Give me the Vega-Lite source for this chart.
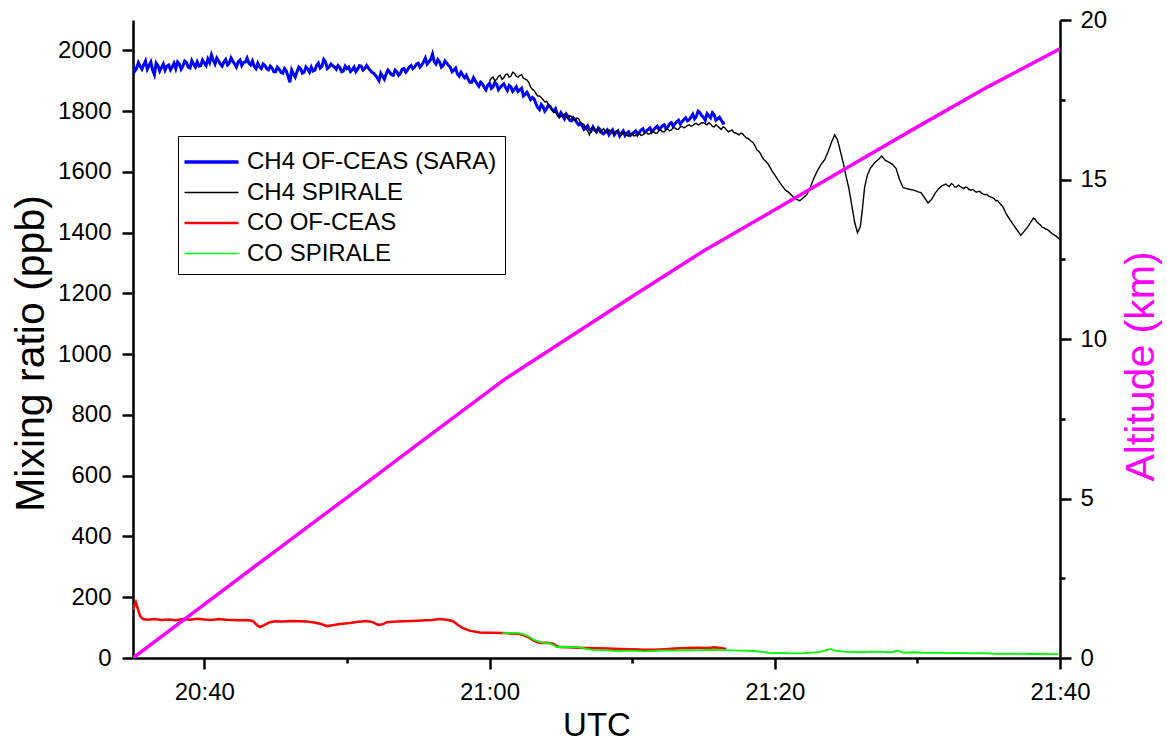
{
  "$schema": "https://vega.github.io/schema/vega-lite/v6.json",
  "width": 927,
  "height": 638,
  "autosize": {"type": "none"},
  "padding": {"left": 133, "top": 20, "right": 107, "bottom": 84},
  "background": "white",
  "config": {
    "view": {"stroke": null},
    "font": "Liberation Sans",
    "axis": {
      "grid": false,
      "domainColor": "black",
      "domainWidth": 2.5,
      "tickColor": "black",
      "tickWidth": 2.5,
      "labelColor": "black",
      "labelFont": "Liberation Sans",
      "labelFontSize": 24,
      "titleFont": "Liberation Sans",
      "titleFontWeight": "normal",
      "titleColor": "black",
      "labelFlush": false,
      "labelOverlap": false
    }
  },
  "datasets": {
    "ch4sara": [
      {"t":35.00,"v":1955},{"t":35.25,"v":1940},{"t":35.50,"v":1948},{"t":35.75,"v":1952},{"t":36.00,"v":1938},{"t":36.25,"v":1962},{"t":36.50,"v":1920},{"t":36.75,"v":1950},
      {"t":37.00,"v":1944},{"t":37.25,"v":1935},{"t":37.50,"v":1952},{"t":37.75,"v":1946},{"t":38.00,"v":1940},{"t":38.25,"v":1955},{"t":38.50,"v":1948},{"t":38.75,"v":1960},
      {"t":39.00,"v":1942},{"t":39.25,"v":1954},{"t":39.50,"v":1962},{"t":39.75,"v":1950},{"t":40.00,"v":1958},{"t":40.25,"v":1972},{"t":40.50,"v":1985},{"t":40.75,"v":1955},
      {"t":41.00,"v":1966},{"t":41.25,"v":1948},{"t":41.50,"v":1970},{"t":41.75,"v":1958},{"t":42.00,"v":1964},{"t":42.25,"v":1945},{"t":42.50,"v":1968},{"t":42.75,"v":1960},
      {"t":43.00,"v":1975},{"t":43.25,"v":1952},{"t":43.50,"v":1947},{"t":43.75,"v":1958},{"t":44.00,"v":1940},{"t":44.25,"v":1950},{"t":44.50,"v":1936},{"t":44.75,"v":1942},
      {"t":45.00,"v":1930},{"t":45.25,"v":1938},{"t":45.50,"v":1925},{"t":45.75,"v":1932},{"t":46.00,"v":1895},{"t":46.25,"v":1922},{"t":46.50,"v":1930},{"t":46.75,"v":1940},
      {"t":47.00,"v":1928},{"t":47.25,"v":1938},{"t":47.50,"v":1945},{"t":47.75,"v":1935},{"t":48.00,"v":1958},{"t":48.25,"v":1948},{"t":48.50,"v":1962},{"t":48.75,"v":1945},
      {"t":49.00,"v":1950},{"t":49.25,"v":1938},{"t":49.50,"v":1944},{"t":49.75,"v":1932},{"t":50.00,"v":1940},{"t":50.25,"v":1930},{"t":50.50,"v":1945},{"t":50.75,"v":1938},
      {"t":51.00,"v":1948},{"t":51.25,"v":1940},{"t":51.50,"v":1942},{"t":51.75,"v":1928},{"t":52.00,"v":1918},{"t":52.25,"v":1900},{"t":52.50,"v":1915},{"t":52.75,"v":1922},
      {"t":53.00,"v":1928},{"t":53.25,"v":1918},{"t":53.50,"v":1930},{"t":53.75,"v":1925},{"t":54.00,"v":1940},{"t":54.25,"v":1935},{"t":54.50,"v":1950},{"t":54.75,"v":1945},
      {"t":55.00,"v":1958},{"t":55.25,"v":1952},{"t":55.50,"v":1975},{"t":55.75,"v":1962},{"t":56.00,"v":1988},{"t":56.25,"v":1955},{"t":56.50,"v":1962},{"t":56.75,"v":1950},
      {"t":57.00,"v":1958},{"t":57.25,"v":1945},{"t":57.50,"v":1935},{"t":57.75,"v":1922},{"t":58.00,"v":1928},{"t":58.25,"v":1910},{"t":58.50,"v":1905},{"t":58.75,"v":1895},
      {"t":59.00,"v":1900},{"t":59.25,"v":1882},{"t":59.50,"v":1890},{"t":59.75,"v":1870},{"t":60.00,"v":1892},{"t":60.25,"v":1880},{"t":60.50,"v":1888},{"t":60.75,"v":1878},
      {"t":61.00,"v":1890},{"t":61.25,"v":1868},{"t":61.50,"v":1880},{"t":61.75,"v":1872},{"t":62.00,"v":1865},{"t":62.25,"v":1875},{"t":62.50,"v":1855},{"t":62.75,"v":1850},
      {"t":63.00,"v":1845},{"t":63.25,"v":1825},{"t":63.50,"v":1805},{"t":63.75,"v":1815},{"t":64.00,"v":1808},{"t":64.25,"v":1815},{"t":64.50,"v":1800},{"t":64.75,"v":1790},
      {"t":65.00,"v":1795},{"t":65.25,"v":1775},{"t":65.50,"v":1782},{"t":65.75,"v":1768},{"t":66.00,"v":1772},{"t":66.25,"v":1755},{"t":66.50,"v":1752},{"t":66.75,"v":1745},
      {"t":67.00,"v":1740},{"t":67.25,"v":1748},{"t":67.50,"v":1732},{"t":67.75,"v":1740},{"t":68.00,"v":1725},{"t":68.25,"v":1738},{"t":68.50,"v":1730},{"t":68.75,"v":1722},
      {"t":69.00,"v":1735},{"t":69.25,"v":1728},{"t":69.50,"v":1720},{"t":69.75,"v":1732},{"t":70.00,"v":1725},{"t":70.25,"v":1735},{"t":70.50,"v":1730},{"t":70.75,"v":1742},
      {"t":71.00,"v":1735},{"t":71.25,"v":1745},{"t":71.50,"v":1738},{"t":71.75,"v":1750},{"t":72.00,"v":1745},{"t":72.25,"v":1755},{"t":72.50,"v":1748},{"t":72.75,"v":1762},
      {"t":73.00,"v":1758},{"t":73.25,"v":1770},{"t":73.50,"v":1765},{"t":73.75,"v":1778},{"t":74.00,"v":1772},{"t":74.25,"v":1790},{"t":74.50,"v":1782},{"t":74.75,"v":1795},
      {"t":75.00,"v":1780},{"t":75.25,"v":1792},{"t":75.50,"v":1778},{"t":75.75,"v":1788},{"t":76.00,"v":1775},{"t":76.25,"v":1770},{"t":76.50,"v":1762},
      {"t":35.125,"v":1932},{"t":35.375,"v":1960},{"t":35.625,"v":1938},{"t":35.875,"v":1965},{"t":36.125,"v":1950},{"t":36.375,"v":1935},{"t":36.625,"v":1958},{"t":36.875,"v":1932},
      {"t":37.125,"v":1955},{"t":37.375,"v":1948},{"t":37.625,"v":1936},{"t":37.875,"v":1958},{"t":38.125,"v":1962},{"t":38.375,"v":1938},{"t":38.625,"v":1965},{"t":38.875,"v":1945},
      {"t":39.125,"v":1966},{"t":39.375,"v":1945},{"t":39.625,"v":1948},{"t":39.875,"v":1968},{"t":40.125,"v":1950},{"t":40.375,"v":1960},{"t":40.625,"v":1968},{"t":40.875,"v":1975},
      {"t":41.125,"v":1955},{"t":41.375,"v":1962},{"t":41.625,"v":1952},{"t":41.875,"v":1975},{"t":42.125,"v":1955},{"t":42.375,"v":1962},{"t":42.625,"v":1950},{"t":42.875,"v":1962},
      {"t":43.125,"v":1958},{"t":43.375,"v":1965},{"t":43.625,"v":1940},{"t":43.875,"v":1946},{"t":44.125,"v":1955},{"t":44.375,"v":1940},{"t":44.625,"v":1948},{"t":44.875,"v":1930},
      {"t":45.125,"v":1945},{"t":45.375,"v":1928},{"t":45.625,"v":1940},{"t":45.875,"v":1915},{"t":46.125,"v":1935},{"t":46.375,"v":1912},{"t":46.625,"v":1945},{"t":46.875,"v":1925},
      {"t":47.125,"v":1945},{"t":47.375,"v":1928},{"t":47.625,"v":1932},{"t":47.875,"v":1950},{"t":48.125,"v":1942},{"t":48.375,"v":1970},{"t":48.625,"v":1940},{"t":48.875,"v":1955},
      {"t":49.125,"v":1945},{"t":49.375,"v":1950},{"t":49.625,"v":1930},{"t":49.875,"v":1948},{"t":50.125,"v":1945},{"t":50.375,"v":1936},{"t":50.625,"v":1930},{"t":50.875,"v":1950},
      {"t":51.125,"v":1935},{"t":51.375,"v":1950},{"t":51.625,"v":1935},{"t":51.875,"v":1925},{"t":52.125,"v":1910},{"t":52.375,"v":1925},{"t":52.625,"v":1905},{"t":52.875,"v":1935},
      {"t":53.125,"v":1920},{"t":53.375,"v":1935},{"t":53.625,"v":1918},{"t":53.875,"v":1938},{"t":54.125,"v":1928},{"t":54.375,"v":1945},{"t":54.625,"v":1940},{"t":54.875,"v":1955},
      {"t":55.125,"v":1945},{"t":55.375,"v":1962},{"t":55.625,"v":1955},{"t":55.875,"v":1970},{"t":56.125,"v":1962},{"t":56.375,"v":1970},{"t":56.625,"v":1945},{"t":56.875,"v":1965},
      {"t":57.125,"v":1950},{"t":57.375,"v":1930},{"t":57.625,"v":1942},{"t":57.875,"v":1915},{"t":58.125,"v":1918},{"t":58.375,"v":1918},{"t":58.625,"v":1895},{"t":58.875,"v":1910},
      {"t":59.125,"v":1890},{"t":59.375,"v":1895},{"t":59.625,"v":1878},{"t":59.875,"v":1885},{"t":60.125,"v":1875},{"t":60.375,"v":1895},{"t":60.625,"v":1870},{"t":60.875,"v":1885},
      {"t":61.125,"v":1878},{"t":61.375,"v":1885},{"t":61.625,"v":1865},{"t":61.875,"v":1880},{"t":62.125,"v":1870},{"t":62.375,"v":1850},{"t":62.625,"v":1862},{"t":62.875,"v":1838},
      {"t":63.125,"v":1840},{"t":63.375,"v":1812},{"t":63.625,"v":1822},{"t":63.875,"v":1800},{"t":64.125,"v":1820},{"t":64.375,"v":1805},{"t":64.625,"v":1808},{"t":64.875,"v":1782},
      {"t":65.125,"v":1785},{"t":65.375,"v":1790},{"t":65.625,"v":1770},{"t":65.875,"v":1778},{"t":66.125,"v":1762},{"t":66.375,"v":1760},{"t":66.625,"v":1740},{"t":66.875,"v":1752},
      {"t":67.125,"v":1735},{"t":67.375,"v":1738},{"t":67.625,"v":1745},{"t":67.875,"v":1728},{"t":68.125,"v":1732},{"t":68.375,"v":1722},{"t":68.625,"v":1738},{"t":68.875,"v":1730},
      {"t":69.125,"v":1718},{"t":69.375,"v":1735},{"t":69.625,"v":1728},{"t":69.875,"v":1720},{"t":70.125,"v":1730},{"t":70.375,"v":1722},{"t":70.625,"v":1738},{"t":70.875,"v":1730},
      {"t":71.125,"v":1740},{"t":71.375,"v":1732},{"t":71.625,"v":1745},{"t":71.875,"v":1740},{"t":72.125,"v":1752},{"t":72.375,"v":1742},{"t":72.625,"v":1758},{"t":72.875,"v":1750},
      {"t":73.125,"v":1765},{"t":73.375,"v":1758},{"t":73.625,"v":1772},{"t":73.875,"v":1768},{"t":74.125,"v":1780},{"t":74.375,"v":1775},{"t":74.625,"v":1800},{"t":74.875,"v":1785},
      {"t":75.125,"v":1770},{"t":75.375,"v":1785},{"t":75.625,"v":1795},{"t":75.875,"v":1770},{"t":76.125,"v":1780},{"t":76.375,"v":1760}
    ],
    "ch4spirale": [
      {"t":60.00,"v":1900},{"t":60.25,"v":1912},{"t":60.50,"v":1905},{"t":60.75,"v":1918},{"t":61.00,"v":1910},{"t":61.25,"v":1922},{"t":61.50,"v":1915},{"t":61.75,"v":1925},
      {"t":62.00,"v":1912},{"t":62.25,"v":1920},{"t":62.50,"v":1905},{"t":62.75,"v":1895},{"t":63.00,"v":1872},{"t":63.25,"v":1858},{"t":63.50,"v":1850},{"t":63.75,"v":1838},
      {"t":64.00,"v":1832},{"t":64.25,"v":1815},{"t":64.50,"v":1795},{"t":64.75,"v":1790},{"t":65.00,"v":1782},{"t":65.25,"v":1790},{"t":65.50,"v":1775},{"t":65.75,"v":1782},
      {"t":66.00,"v":1768},{"t":66.25,"v":1775},{"t":66.50,"v":1760},{"t":66.75,"v":1745},{"t":67.00,"v":1722},{"t":67.25,"v":1745},{"t":67.50,"v":1738},{"t":67.75,"v":1730},
      {"t":68.00,"v":1742},{"t":68.25,"v":1728},{"t":68.50,"v":1735},{"t":68.75,"v":1725},{"t":69.00,"v":1732},{"t":69.25,"v":1722},{"t":69.50,"v":1728},{"t":69.75,"v":1718},
      {"t":70.00,"v":1725},{"t":70.25,"v":1720},{"t":70.50,"v":1728},{"t":70.75,"v":1722},{"t":71.00,"v":1730},{"t":71.25,"v":1726},{"t":71.50,"v":1733},{"t":71.75,"v":1728},
      {"t":72.00,"v":1738},{"t":72.25,"v":1732},{"t":72.50,"v":1742},{"t":72.75,"v":1738},{"t":73.00,"v":1745},{"t":73.25,"v":1740},{"t":73.50,"v":1750},{"t":73.75,"v":1748},
      {"t":74.00,"v":1755},{"t":74.25,"v":1752},{"t":74.50,"v":1760},{"t":74.75,"v":1757},{"t":75.00,"v":1762},{"t":75.25,"v":1755},{"t":75.50,"v":1758},{"t":75.75,"v":1748},
      {"t":76.00,"v":1750},{"t":76.25,"v":1740},{"t":76.50,"v":1745},{"t":76.75,"v":1732},{"t":77.00,"v":1738},{"t":77.25,"v":1728},{"t":77.50,"v":1722},{"t":77.75,"v":1725},
      {"t":78.00,"v":1712},{"t":78.25,"v":1705},{"t":78.50,"v":1695},{"t":78.75,"v":1672},{"t":79.00,"v":1660},{"t":79.25,"v":1640},{"t":79.50,"v":1628},{"t":79.75,"v":1608},
      {"t":80.00,"v":1590},{"t":80.25,"v":1572},{"t":80.50,"v":1555},{"t":80.75,"v":1540},{"t":81.00,"v":1532},{"t":81.25,"v":1520},{"t":81.50,"v":1510},{"t":81.75,"v":1505},
      {"t":82.00,"v":1515},{"t":82.25,"v":1525},{"t":82.50,"v":1550},{"t":82.75,"v":1580},{"t":83.00,"v":1605},{"t":83.25,"v":1625},{"t":83.50,"v":1640},{"t":83.75,"v":1668},
      {"t":84.00,"v":1700},{"t":84.20,"v":1722},{"t":84.40,"v":1705},{"t":84.60,"v":1668},{"t":84.80,"v":1630},{"t":85.00,"v":1585},{"t":85.20,"v":1545},{"t":85.40,"v":1490},
      {"t":85.60,"v":1435},{"t":85.80,"v":1400},{"t":86.00,"v":1420},{"t":86.15,"v":1480},{"t":86.30,"v":1550},{"t":86.50,"v":1590},{"t":86.70,"v":1612},{"t":87.00,"v":1630},
      {"t":87.25,"v":1640},{"t":87.50,"v":1652},{"t":87.75,"v":1638},{"t":88.00,"v":1632},{"t":88.25,"v":1625},{"t":88.50,"v":1612},{"t":88.75,"v":1575},{"t":89.00,"v":1548},
      {"t":89.25,"v":1545},{"t":89.50,"v":1542},{"t":89.75,"v":1540},{"t":90.00,"v":1535},{"t":90.25,"v":1532},{"t":90.50,"v":1515},{"t":90.75,"v":1498},{"t":91.00,"v":1510},
      {"t":91.25,"v":1530},{"t":91.50,"v":1545},{"t":91.75,"v":1555},{"t":92.00,"v":1560},{"t":92.25,"v":1552},{"t":92.50,"v":1558},{"t":92.75,"v":1550},{"t":93.00,"v":1552},
      {"t":93.25,"v":1545},{"t":93.50,"v":1548},{"t":93.75,"v":1540},{"t":94.00,"v":1538},{"t":94.25,"v":1535},{"t":94.50,"v":1530},{"t":94.75,"v":1525},{"t":95.00,"v":1520},
      {"t":95.25,"v":1515},{"t":95.50,"v":1505},{"t":95.75,"v":1498},{"t":96.00,"v":1485},{"t":96.25,"v":1460},{"t":96.50,"v":1442},{"t":96.75,"v":1425},{"t":97.00,"v":1408},
      {"t":97.25,"v":1392},{"t":97.50,"v":1405},{"t":97.75,"v":1420},{"t":98.00,"v":1438},{"t":98.25,"v":1445},{"t":98.50,"v":1430},{"t":98.75,"v":1418},{"t":99.00,"v":1412},
      {"t":99.25,"v":1405},{"t":99.50,"v":1395},{"t":99.75,"v":1388},{"t":100.00,"v":1378},
      {"t":60.125,"v":1908},{"t":60.375,"v":1900},{"t":60.625,"v":1915},{"t":60.875,"v":1905},{"t":61.125,"v":1920},{"t":61.375,"v":1912},{"t":61.625,"v":1928},{"t":61.875,"v":1915},
      {"t":62.125,"v":1918},{"t":62.375,"v":1908},{"t":62.625,"v":1902},{"t":62.875,"v":1880},{"t":63.125,"v":1868},{"t":63.375,"v":1850},{"t":63.625,"v":1845},{"t":63.875,"v":1830},
      {"t":64.125,"v":1822},{"t":64.375,"v":1805},{"t":64.625,"v":1798},{"t":64.875,"v":1780},{"t":65.125,"v":1788},{"t":65.375,"v":1780},{"t":65.625,"v":1785},{"t":65.875,"v":1772},
      {"t":66.125,"v":1778},{"t":66.375,"v":1762},{"t":66.625,"v":1755},{"t":66.875,"v":1735},{"t":67.125,"v":1738},{"t":67.375,"v":1735},{"t":67.625,"v":1740},{"t":67.875,"v":1735},
      {"t":68.125,"v":1732},{"t":68.375,"v":1738},{"t":68.625,"v":1728},{"t":68.875,"v":1735},{"t":69.125,"v":1726},{"t":69.375,"v":1730},{"t":69.625,"v":1720},{"t":69.875,"v":1726},
      {"t":70.125,"v":1718},{"t":70.375,"v":1725},{"t":70.625,"v":1720},{"t":70.875,"v":1728},{"t":71.125,"v":1724},{"t":71.375,"v":1732},{"t":71.625,"v":1727},{"t":71.875,"v":1735},
      {"t":72.125,"v":1732},{"t":72.375,"v":1740},{"t":72.625,"v":1735},{"t":72.875,"v":1745},{"t":73.125,"v":1740},{"t":73.375,"v":1748},{"t":73.625,"v":1745},{"t":73.875,"v":1752},
      {"t":74.125,"v":1750},{"t":74.375,"v":1758},{"t":74.625,"v":1754},{"t":74.875,"v":1762},{"t":75.125,"v":1758},{"t":75.375,"v":1762},{"t":75.625,"v":1750},{"t":75.875,"v":1755},
      {"t":76.125,"v":1745},{"t":76.375,"v":1748},{"t":76.625,"v":1738},{"t":76.875,"v":1735},{"t":77.125,"v":1730},{"t":77.375,"v":1725},{"t":77.625,"v":1728},{"t":77.875,"v":1718},
      {"t":78.125,"v":1710},{"t":78.375,"v":1700},{"t":78.625,"v":1685},{"t":78.875,"v":1668},{"t":79.125,"v":1648},{"t":79.375,"v":1635},{"t":79.625,"v":1618},{"t":79.875,"v":1598},
      {"t":92.125,"v":1555},{"t":92.375,"v":1562},{"t":92.625,"v":1550},{"t":92.875,"v":1556},{"t":93.125,"v":1548},{"t":93.375,"v":1550},{"t":93.625,"v":1542},{"t":93.875,"v":1543},
      {"t":94.125,"v":1533},{"t":94.375,"v":1536},{"t":94.625,"v":1527},{"t":94.875,"v":1526},{"t":95.125,"v":1518},{"t":95.375,"v":1512},{"t":95.625,"v":1506},{"t":95.875,"v":1492},
      {"t":98.125,"v":1448},{"t":98.375,"v":1436},{"t":98.625,"v":1425},{"t":98.875,"v":1416},{"t":99.125,"v":1410},{"t":99.375,"v":1400},{"t":99.625,"v":1392},{"t":99.875,"v":1382}
    ],
    "coofceas": [
      {"t":35.0,"v":158},{"t":35.1,"v":175},{"t":35.2,"v":184},{"t":35.35,"v":160},{"t":35.5,"v":138},{"t":35.7,"v":128},{"t":36.0,"v":126},{"t":36.5,"v":128},
      {"t":37.0,"v":125},{"t":37.5,"v":127},{"t":38.0,"v":124},{"t":38.5,"v":128},{"t":39.0,"v":126},{"t":39.5,"v":129},{"t":40.0,"v":127},{"t":40.5,"v":125},
      {"t":41.0,"v":128},{"t":41.5,"v":126},{"t":42.0,"v":125},{"t":42.5,"v":124},{"t":43.0,"v":125},{"t":43.4,"v":122},{"t":43.7,"v":108},{"t":43.9,"v":102},
      {"t":44.2,"v":108},{"t":44.6,"v":118},{"t":45.0,"v":121},{"t":45.5,"v":120},{"t":46.0,"v":122},{"t":46.7,"v":121},{"t":47.2,"v":120},{"t":47.7,"v":117},
      {"t":48.2,"v":112},{"t":48.6,"v":105},{"t":49.0,"v":108},{"t":49.5,"v":112},{"t":50.2,"v":115},{"t":50.8,"v":119},{"t":51.4,"v":122},{"t":51.8,"v":118},
      {"t":52.2,"v":109},{"t":52.5,"v":111},{"t":52.8,"v":118},{"t":53.5,"v":120},{"t":54.0,"v":121},{"t":54.5,"v":122},{"t":55.0,"v":123},{"t":55.5,"v":124},
      {"t":56.0,"v":125},{"t":56.5,"v":128},{"t":57.0,"v":126},{"t":57.4,"v":122},{"t":57.7,"v":112},{"t":58.1,"v":99},{"t":58.6,"v":90},{"t":59.3,"v":84},
      {"t":60.0,"v":83},{"t":60.9,"v":82},{"t":61.5,"v":81},{"t":62.1,"v":79},{"t":62.5,"v":73},{"t":62.8,"v":66},{"t":63.1,"v":57},{"t":63.5,"v":49},
      {"t":64.0,"v":50},{"t":64.4,"v":48},{"t":64.7,"v":40},{"t":64.9,"v":36},{"t":65.5,"v":35},{"t":66.2,"v":34},{"t":66.8,"v":33},{"t":67.5,"v":32},
      {"t":68.3,"v":31},{"t":69.1,"v":30},{"t":70.0,"v":29},{"t":70.8,"v":27},{"t":71.5,"v":27},{"t":72.3,"v":29},{"t":73.0,"v":31},{"t":73.8,"v":33},
      {"t":74.5,"v":34},{"t":75.3,"v":33},{"t":75.8,"v":35},{"t":76.2,"v":33},{"t":76.6,"v":30}
    ],
    "cospirale": [
      {"t":60.9,"v":82},{"t":61.5,"v":83},{"t":62.1,"v":81},{"t":62.5,"v":76},{"t":62.8,"v":69},{"t":63.1,"v":60},{"t":63.5,"v":53},{"t":63.8,"v":50},
      {"t":64.2,"v":49},{"t":64.5,"v":42},{"t":64.7,"v":36},{"t":65.2,"v":37},{"t":65.8,"v":36},{"t":66.3,"v":35},{"t":66.8,"v":30},{"t":67.3,"v":26},
      {"t":68.0,"v":25},{"t":68.5,"v":24},{"t":69.1,"v":23},{"t":70.0,"v":24},{"t":70.8,"v":22},{"t":71.5,"v":23},{"t":72.3,"v":25},{"t":73.0,"v":24},
      {"t":73.8,"v":26},{"t":74.5,"v":25},{"t":75.3,"v":27},{"t":76.2,"v":26},{"t":77.0,"v":25},{"t":77.8,"v":24},{"t":78.5,"v":23},{"t":79.1,"v":20},
      {"t":79.7,"v":16},{"t":80.5,"v":17},{"t":81.2,"v":15},{"t":82.0,"v":16},{"t":82.6,"v":18},{"t":83.2,"v":20},{"t":83.6,"v":26},{"t":83.9,"v":30},
      {"t":84.2,"v":24},{"t":84.8,"v":21},{"t":85.3,"v":20},{"t":86.0,"v":19},{"t":86.8,"v":21},{"t":87.5,"v":20},{"t":88.2,"v":19},{"t":88.6,"v":24},
      {"t":89.0,"v":18},{"t":89.8,"v":19},{"t":90.5,"v":17},{"t":91.3,"v":18},{"t":92.3,"v":16},{"t":93.0,"v":17},{"t":93.8,"v":15},{"t":94.6,"v":16},
      {"t":95.8,"v":13},{"t":96.6,"v":14},{"t":97.5,"v":13},{"t":98.3,"v":14},{"t":99.1,"v":13},{"t":99.9,"v":13}
    ],
    "alt": [
      {"t":35,"a":0},{"t":40,"a":1.68},{"t":45,"a":3.36},{"t":50,"a":5.03},{"t":55,"a":6.71},{"t":60,"a":8.38},{"t":61,"a":8.72},{"t":65,"a":9.88},
      {"t":70,"a":11.33},{"t":75,"a":12.76},{"t":80,"a":14.05},{"t":85,"a":15.35},{"t":90,"a":16.65},{"t":95,"a":17.92},{"t":100,"a":19.1}
    ]
  },
  "layer": [
    {
      "layer": [
        {
          "data": {"name": "ch4sara"},
          "mark": {"type": "line", "strokeWidth": 3, "clip": true},
          "encoding": {
            "x": {
              "field": "t", "type": "quantitative",
              "scale": {"domain": [35, 100], "nice": false, "zero": false},
              "axis": {
                "orient": "bottom",
                "values": [40, 50, 60, 70, 80, 90, 100],
                "labelExpr": "datum.value % 20 === 0 ? (20 + floor(datum.value / 60)) + ':' + (datum.value % 60 < 10 ? '0' : '') + (datum.value % 60) : ''",
                "tickSize": {"condition": {"test": "datum.value % 20 !== 0", "value": 5}, "value": 11},
                "labelPadding": 11,
                "title": "UTC",
                "titleFontSize": 33,
                "titleY": 77,
                "titleBaseline": "alphabetic"
              }
            },
            "y": {
              "field": "v", "type": "quantitative",
              "scale": {"domain": [0, 2100], "nice": false, "zero": false},
              "axis": {
                "orient": "left",
                "values": [0, 100, 200, 300, 400, 500, 600, 700, 800, 900, 1000, 1100, 1200, 1300, 1400, 1500, 1600, 1700, 1800, 1900, 2000, 2100],
                "labelExpr": "datum.value % 200 === 0 ? '' + datum.value : ''",
                "tickSize": {"condition": {"test": "datum.value % 200 !== 0", "value": 5}, "value": 11},
                "labelPadding": 11,
                "title": "Mixing ratio (ppb)",
                "titleFontSize": 41,
                "titleAngle": -90,
                "titleX": -90,
                "titleY": 333,
                "titleAlign": "center",
                "titleBaseline": "alphabetic"
              }
            },
            "color": {
              "datum": "CH4 OF-CEAS (SARA)",
              "scale": {
                "domain": ["CH4 OF-CEAS (SARA)", "CH4 SPIRALE", "CO OF-CEAS", "CO SPIRALE"],
                "range": ["#0000FF", "#000000", "#FF0000", "#00FF00"]
              },
              "legend": {
                "orient": "none",
                "legendX": 45,
                "legendY": 116,
                "title": " ",
                "titleFontSize": 4,
                "titlePadding": 2,
                "symbolType": "M-1,0H3",
                "symbolSize": 729,
                "symbolStrokeWidth": 2,
                "labelFontSize": 24,
                "labelFont": "Liberation Sans",
                "labelColor": "black",
                "labelLimit": 600,
                "labelOffset": 37,
                "padding": 8,
                "rowPadding": 6.5,
                "strokeColor": "black",
                "fillColor": "white",
                "encode": {
                  "symbols": {
                    "update": {
                      "strokeWidth": {"signal": "datum.value === 'CH4 OF-CEAS (SARA)' ? 3.5 : (datum.value === 'CO OF-CEAS' ? 2.5 : 1.5)"}
                    }
                  }
                }
              }
            }
          }
        },
        {
          "data": {"name": "ch4spirale"},
          "mark": {"type": "line", "strokeWidth": 1.4, "clip": true},
          "encoding": {
            "x": {"field": "t", "type": "quantitative"},
            "y": {"field": "v", "type": "quantitative"},
            "color": {"datum": "CH4 SPIRALE"}
          }
        },
        {
          "data": {"name": "coofceas"},
          "mark": {"type": "line", "strokeWidth": 2.5, "clip": true},
          "encoding": {
            "x": {"field": "t", "type": "quantitative"},
            "y": {"field": "v", "type": "quantitative"},
            "color": {"datum": "CO OF-CEAS"}
          }
        },
        {
          "data": {"name": "cospirale"},
          "mark": {"type": "line", "strokeWidth": 1.8, "clip": true},
          "encoding": {
            "x": {"field": "t", "type": "quantitative"},
            "y": {"field": "v", "type": "quantitative"},
            "color": {"datum": "CO SPIRALE"}
          }
        }
      ]
    },
    {
      "data": {"name": "alt"},
      "mark": {"type": "line", "strokeWidth": 3.5, "color": "#FF00FF", "clip": true},
      "encoding": {
        "x": {"field": "t", "type": "quantitative"},
        "y": {
          "field": "a", "type": "quantitative",
          "scale": {"domain": [0, 20], "nice": false, "zero": false},
          "axis": {
            "orient": "right",
            "values": [0, 2.5, 5, 7.5, 10, 12.5, 15, 17.5, 20],
            "labelExpr": "datum.value % 5 === 0 ? '' + datum.value : ''",
            "tickSize": {"condition": {"test": "datum.value % 5 !== 0", "value": 5}, "value": 11},
            "labelPadding": 9,
            "title": "Altitude (km)",
            "titleColor": "#FF00FF",
            "titleFontSize": 41,
            "titleAngle": -90,
            "titleX": 93,
            "titleY": 346,
            "titleAlign": "center",
            "titleBaseline": "alphabetic"
          }
        }
      }
    }
  ],
  "resolve": {"scale": {"y": "independent"}}
}
